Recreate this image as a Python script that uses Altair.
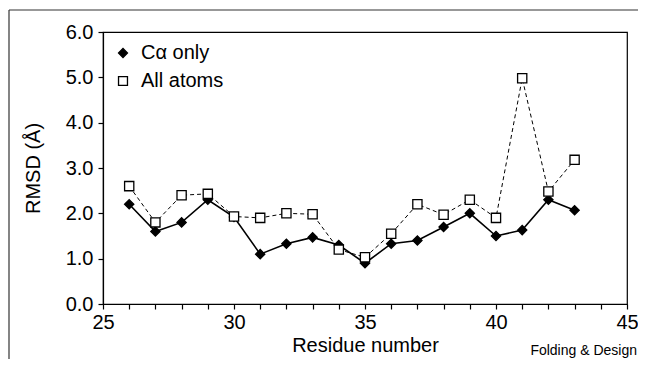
import altair as alt
import pandas as pd

residues = list(range(26, 44))
ca_only = [2.2, 1.6, 1.8, 2.3, 1.92, 1.1, 1.33, 1.47, 1.3, 0.9, 1.33, 1.4, 1.7, 2.0, 1.5, 1.63, 2.3, 2.07]
all_atoms = [2.6, 1.8, 2.4, 2.43, 1.93, 1.9, 2.0, 1.98, 1.2, 1.03, 1.55, 2.2, 1.97, 2.3, 1.9, 4.98, 2.48, 3.18]
series_names = ["C\u03b1 only", "All atoms"]
x_ticks = list(range(25, 46))
y_ticks = [0, 1, 2, 3, 4, 5, 6]

rows = []
for r, a, b in zip(residues, ca_only, all_atoms):
    rows.append({"residue": r, "rmsd": a, "series": series_names[0]})
    rows.append({"residue": r, "rmsd": b, "series": series_names[1]})
df = pd.DataFrame(rows)

FONT = "Liberation Sans"
FS = 20

x_enc = alt.X("residue:Q", scale=alt.Scale(domain=[25, 45], nice=False),
              axis=alt.Axis(values=x_ticks, title="Residue number",
                            labelExpr="datum.value % 5 == 0 ? datum.label : ''",
                            labelFlush=False, labelOverlap=False,
                            grid=False, tickSize=5, labelPadding=3, titlePadding=3))
y_enc = alt.Y("rmsd:Q", scale=alt.Scale(domain=[0, 6], nice=False),
              axis=alt.Axis(values=y_ticks, format=".1f", title="RMSD (\u00c5)",
                            labelFlush=False,
                            grid=False, tickSize=5, labelPadding=5, titlePadding=22))

base = alt.Chart(df)
line_ca = base.transform_filter(alt.datum.series == series_names[0]).mark_line(
    color="black", strokeWidth=1.6).encode(x=x_enc, y=y_enc)
line_all = base.transform_filter(alt.datum.series == series_names[1]).mark_line(
    color="black", strokeWidth=1.0, strokeDash=[4, 3]).encode(x=x_enc, y=y_enc)

leg = dict(title=None, orient="none", legendX=10, legendY=11,
           symbolStrokeColor="black", symbolStrokeWidth=1.3, symbolSize=80,
           labelFont=FONT, labelFontSize=FS, labelColor="black",
           rowPadding=8, labelOffset=8)

points = base.mark_point(filled=False, strokeWidth=1.3, opacity=1, size=85).encode(
    x=x_enc, y=y_enc,
    shape=alt.Shape("series:N", scale=alt.Scale(domain=series_names, range=["diamond", "square"]),
                    legend=alt.Legend(**leg)),
    fill=alt.Fill("series:N", scale=alt.Scale(domain=series_names, range=["black", "white"]),
                  legend=alt.Legend(**leg)),
    stroke=alt.Stroke("series:N", scale=alt.Scale(domain=series_names, range=["black", "black"]),
                      legend=alt.Legend(**leg)),
)

credit = alt.Chart(pd.DataFrame({"t": ["Folding & Design"]})).mark_text(
    font=FONT, fontSize=14, align="right", baseline="alphabetic", color="black"
).encode(x=alt.value(534), y=alt.value(323), text="t:N")

frame_top = alt.Chart(pd.DataFrame({"a": [0]})).mark_rule(color="#333", strokeWidth=1.2).encode(
    x=alt.value(-94), x2=alt.value(560), y=alt.value(-22))
frame_left = alt.Chart(pd.DataFrame({"a": [0]})).mark_rule(color="#333", strokeWidth=1.2).encode(
    x=alt.value(-94), y=alt.value(-22), y2=alt.value(400))

chart = alt.layer(frame_top, frame_left, line_all, line_ca, points, credit).properties(
    width=524, height=272,
    autosize=alt.AutoSizeParams(type="none"),
    padding={"left": 95, "top": 24, "right": 11, "bottom": 55},
    background="white",
).configure_view(stroke="black", strokeWidth=1.2).configure_axis(
    domainColor="black", domainWidth=1.2, tickColor="black", tickWidth=1.2,
    labelFont=FONT, labelFontSize=FS, labelColor="black",
    titleFont=FONT, titleFontSize=FS, titleFontWeight="normal", titleColor="black",
)

chart.save("out.html", embed_options={"renderer": "svg", "actions": False})
